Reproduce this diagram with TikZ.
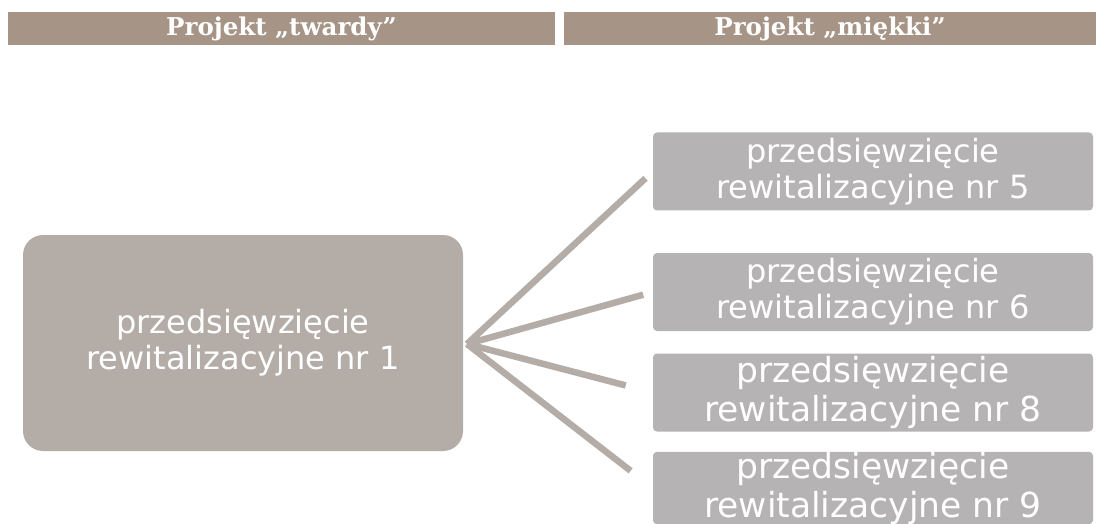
\documentclass[tikz,border=0pt]{standalone}
\usepackage{fontspec}
\setmainfont{DejaVu Sans}
\newfontfamily\headfont{DejaVu Serif}
\usetikzlibrary{positioning}

\definecolor{headbrown}{RGB}{166,148,134}
\definecolor{maingray}{RGB}{180,172,166}
\definecolor{sidegray}{RGB}{181,179,180}

\tikzset{
  headbar/.style={fill=headbrown, text=white, inner sep=0pt, minimum height=33pt,
    font=\headfont\bfseries\fontsize{24.5}{27}\selectfont},
  mainbox/.style={fill=maingray, text=white, rounded corners=20pt, align=center,
    minimum width=440pt, minimum height=216pt, font=\fontsize{32}{36}\selectfont},
  sidebox/.style={fill=sidegray, text=white, rounded corners=4pt, align=center,
    minimum width=440pt, minimum height=78pt, inner sep=0pt, font=\fontsize{32}{36}\selectfont},
  bigtext/.style={font=\fontsize{34.5}{39}\selectfont},
  spoke/.style={draw=maingray, line width=6.5pt}
}

\begin{document}
\begin{tikzpicture}[x=1pt,y=-1pt]

\clip (0,0) rectangle (1096,524);

\node[headbar, minimum width=547pt] (hard) at (281.5,28.5) {Projekt „twardy”};
\node[headbar, minimum width=532pt] (soft) at (830,28.5) {Projekt „miękki”};

\node[mainbox] (p1) at (243,343) {przedsięwzięcie\\rewitalizacyjne nr 1};

\node[sidebox] (p5) at (873,171.5) {przedsięwzięcie\\rewitalizacyjne nr 5};
\node[sidebox] (p6) at (873,292) {przedsięwzięcie\\rewitalizacyjne nr 6};
\node[sidebox, bigtext] (p8) at (873,392.5) {przedsięwzięcie\\rewitalizacyjne nr 8};
\node[sidebox, bigtext, minimum height=72pt] (p9) at (873,488) {przedsięwzięcie\\rewitalizacyjne nr 9};

\coordinate (hub) at (467,344);

\draw [spoke, shorten >=10pt] (hub) -- (p5.west);
\draw [spoke, shorten >=10pt] (hub) -- (p6.west);
\draw [spoke, shorten >=28pt] (hub) -- (p8.west);
\draw [spoke, shorten >=28pt] (hub) -- (p9.west);

\end{tikzpicture}
\end{document}
